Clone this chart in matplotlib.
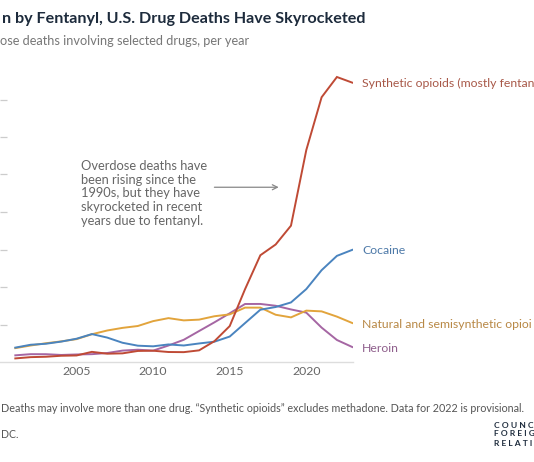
import matplotlib
matplotlib.use("Agg")
import matplotlib.pyplot as plt

W, H = 534, 462
years = list(range(2001, 2024))
synthetic = [957, 1295, 1400, 1664, 1742, 2707, 2213, 2306, 2946, 3007, 2666, 2628,
             3105, 5544, 9580, 19413, 28466, 31335, 36359, 56516, 70601, 76000, 74500]
cocaine = [3833, 4599, 4867, 5443, 6208, 7448, 6512, 5129, 4350, 4183, 4681, 4404,
           4944, 5415, 6784, 10375, 13942, 14666, 15883, 19447, 24486, 28300, 29900]
natural = [3700, 4400, 5000, 5500, 6100, 7400, 8400, 9100, 9600, 10900, 11700, 11100,
           11300, 12200, 12700, 14500, 14500, 12600, 11900, 13700, 13500, 12100, 10400]
heroin = [1779, 2089, 2080, 1878, 2009, 2088, 2399, 3041, 3278, 3036, 4397, 5925,
          8257, 10574, 12989, 15469, 15482, 14996, 14019, 13165, 9173, 5871, 4000]
# labels as visible in the (cropped) reference
series_names = ["Synthetic opioids (mostly fentan", "Cocaine",
                "Natural and semisynthetic opioi", "Heroin"]
x_ticks = [2005, 2010, 2015, 2020]
y_ticks = [10000, 20000, 30000, 40000, 50000, 60000, 70000]

title = "n by Fentanyl, U.S. Drug Deaths Have Skyrocketed"
subtitle = "ose deaths involving selected drugs, per year"
note = "Deaths may involve more than one drug. \u201cSynthetic opioids\u201d excludes methadone. Data for 2022 is provisional."
source = "DC."
logo_lines = ["COUNC", "FOREIG", "RELATI"]
annotation = ("Overdose deaths have\nbeen rising since the\n1990s, but they have\n"
              "skyrocketed in recent\nyears due to fentanyl.")

line_colors = ["#bf4a35", "#4a84bf", "#e2a43c", "#a566a3"]
label_colors = ["#a85848", "#4d79a8", "#b88845", "#8f5f8c"]

plt.rcParams['font.family'] = ['Lato', 'DejaVu Sans']

fig = plt.figure(figsize=(W / 100, H / 100), dpi=100)
fig.patch.set_facecolor("white")
ax = fig.add_axes([0, 100 / H, 353 / W, 300 / H])
ax.set_xlim(2000, 2023.05)
ax.set_ylim(0, 80000)

data = [synthetic, cocaine, natural, heroin]
for vals, c in zip([heroin, natural, cocaine, synthetic],
                   [line_colors[3], line_colors[2], line_colors[1], line_colors[0]]):
    ax.plot(years, vals, color=c, lw=1.4, solid_joinstyle="miter", zorder=3)

for vals, name, c in zip(data, series_names, label_colors):
    ax.annotate(name, xy=(years[-1], vals[-1]), xytext=(10, -1),
                textcoords="offset pixels", va="center", ha="left",
                color=c, fontsize=8.8, annotation_clip=False)

for s in ["top", "right", "left"]:
    ax.spines[s].set_visible(False)
ax.spines["bottom"].set_color("#dddddd")
ax.spines["bottom"].set_linewidth(1.0)
ax.set_xticks(x_ticks)
ax.set_xticklabels([str(x) for x in x_ticks], color="#666666", fontsize=8.8)
ax.tick_params(axis="x", length=0, pad=3)
ax.set_yticks(y_ticks)
ax.set_yticklabels([])
ax.tick_params(axis="y", direction="in", length=5, color="#cccccc", width=0.9)
ax.set_facecolor("none")

# annotation text and arrow
fig.text(81 / W, 1 - 160 / H, annotation, color="#666666", fontsize=9.3,
         ha="left", va="top", linespacing=1.17)
ax.annotate("", xy=(2018.2, 46600), xytext=(2014.0, 46600),
            arrowprops=dict(arrowstyle="->", color="#888888", lw=0.9,
                            shrinkA=0, shrinkB=0, mutation_scale=9))

fig.text(2 / W, 1 - 19 / H, title, va="center", ha="left", fontsize=11.6,
         color="#1d2b3c", weight="bold")
fig.text(0, 1 - 41 / H, subtitle, va="center", ha="left", fontsize=9.2, color="#777777")
fig.text(1 / W, 1 - 409 / H, note, va="center", ha="left", fontsize=7.75, color="#555555")
fig.text(1 / W, 1 - 435 / H, source, va="center", ha="left", fontsize=7.6, color="#555555")

for i, s in enumerate(logo_lines):
    fig.text(494 / W, 1 - (425 + 9 * i) / H, " ".join(s), va="center", ha="left",
             fontsize=6.1, color="#1d2b3c", weight="bold")

fig.savefig("out.png", dpi=100, facecolor="white")
